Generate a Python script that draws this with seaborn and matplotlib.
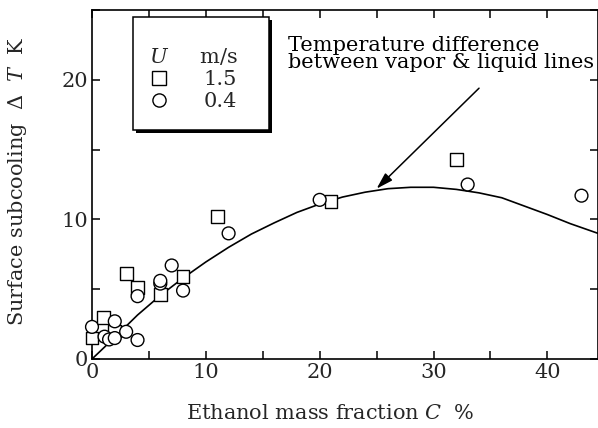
import numpy as np
import pandas as pd
import matplotlib
matplotlib.use("Agg")
import matplotlib.pyplot as plt
import seaborn as sns
from matplotlib.lines import Line2D
from matplotlib.patches import Rectangle
from matplotlib.ticker import MultipleLocator

# ---- data ----
sq_C = [0, 1, 2, 3, 4, 6, 8, 11, 21, 32]
sq_dT = [1.5, 3.0, 2.0, 6.1, 5.1, 4.6, 5.9, 10.2, 11.3, 14.3]
ci_C = [0, 1.1, 1.5, 2, 2, 3, 4, 4, 6, 6, 7, 8, 12, 20, 33, 43]
ci_dT = [2.3, 1.6, 1.4, 2.7, 1.5, 1.95, 1.36, 4.5, 5.4, 5.6, 6.7, 4.9, 9.0, 11.4, 12.5, 11.7]
line_C = [0, 2, 4, 6, 8, 10, 12, 14, 16, 18, 20, 22, 24, 26, 28, 30, 32, 34, 36, 38, 40, 42, 44.45]
line_dT = [0, 1.55, 3.15, 4.55, 5.8, 6.95, 8.0, 8.95, 9.75, 10.5, 11.1, 11.6, 11.95, 12.2,
           12.3, 12.3, 12.15, 11.9, 11.55, 10.95, 10.35, 9.7, 9.0]
speeds = ["1.5", "0.4"]

df = pd.DataFrame({
    "C": sq_C + ci_C,
    "dT": sq_dT + ci_dT,
    "U": [speeds[0]] * len(sq_C) + [speeds[1]] * len(ci_C),
})

sns.set_style("ticks")
plt.rcParams["font.family"] = ["DejaVu Serif"]
plt.rcParams["mathtext.fontset"] = "dejavuserif"

FS = 15

fig = plt.figure(figsize=(5.98, 4.28), dpi=100)
ax = fig.add_axes([92 / 598, 69 / 428, 506 / 598, 349 / 428])

sns.lineplot(x=line_C, y=line_dT, color="k", lw=1.2, ax=ax, estimator=None, sort=False)
sns.scatterplot(data=df, x="C", y="dT", style="U", markers={"1.5": "s", "0.4": "o"},
                s=85, facecolor="white", edgecolor="k", linewidth=1.0, legend=False,
                ax=ax, clip_on=False, zorder=3)

ax.set_xlim(0, 44.45)
ax.set_ylim(0, 25)
ax.xaxis.set_major_locator(MultipleLocator(10))
ax.xaxis.set_minor_locator(MultipleLocator(5))
ax.yaxis.set_major_locator(MultipleLocator(10))
ax.yaxis.set_minor_locator(MultipleLocator(5))
ax.tick_params(which="both", direction="in", top=True, right=True, length=6,
               width=1.1, color="k", labelsize=FS, pad=3)
for sp in ax.spines.values():
    sp.set_linewidth(1.2)
    sp.set_color("k")

ax.set_xlabel("Ethanol mass fraction $C$  %", fontsize=FS)
ax.xaxis.set_label_coords(0.47, -0.13)
ax.set_ylabel("Surface subcooling  $\\Delta$  $T$  K", fontsize=FS)
ax.yaxis.set_label_coords(-0.125, 0.51)

# annotation
ax.text(17.2, 23.15, "Temperature difference\nbetween vapor & liquid lines",
        fontsize=FS, ha="left", va="top", linespacing=0.85, color="k")
ax.annotate("", xy=(25.0, 12.2), xytext=(34.0, 19.4),
            arrowprops=dict(arrowstyle="-|>,head_length=1.0,head_width=0.3",
                            color="k", lw=1.1, shrinkA=0, shrinkB=0))

# legend frame with shadow
x0, x1 = (133 - 92) / 506, (269 - 92) / 506
y0, y1 = (359 - 130) / 349, (359 - 17) / 349
ax.add_patch(Rectangle((x0 + 3 / 506, y0 - 3 / 349), x1 - x0, y1 - y0, transform=ax.transAxes,
                       facecolor="k", edgecolor="k", lw=0, zorder=5, clip_on=False))
ax.add_patch(Rectangle((x0, y0), x1 - x0, y1 - y0, transform=ax.transAxes,
                       facecolor="white", edgecolor="k", lw=1.1, zorder=6, clip_on=False))

handles = [Line2D([], [], marker="s", ls="", mfc="white", mec="k", ms=9.5, mew=1.0),
           Line2D([], [], marker="o", ls="", mfc="white", mec="k", ms=9.5, mew=1.0)]
leg = ax.legend(handles, speeds, title="$U$     m/s", frameon=False, loc="upper left",
                bbox_to_anchor=((149 - 92) / 506, (359 - 46) / 349), alignment="left",
                handlelength=1.0, handletextpad=1.6, labelspacing=0.15, fontsize=FS,
                title_fontsize=FS, borderaxespad=0, borderpad=0)
leg.set_zorder(7)

fig.savefig("out.png", dpi=100)
